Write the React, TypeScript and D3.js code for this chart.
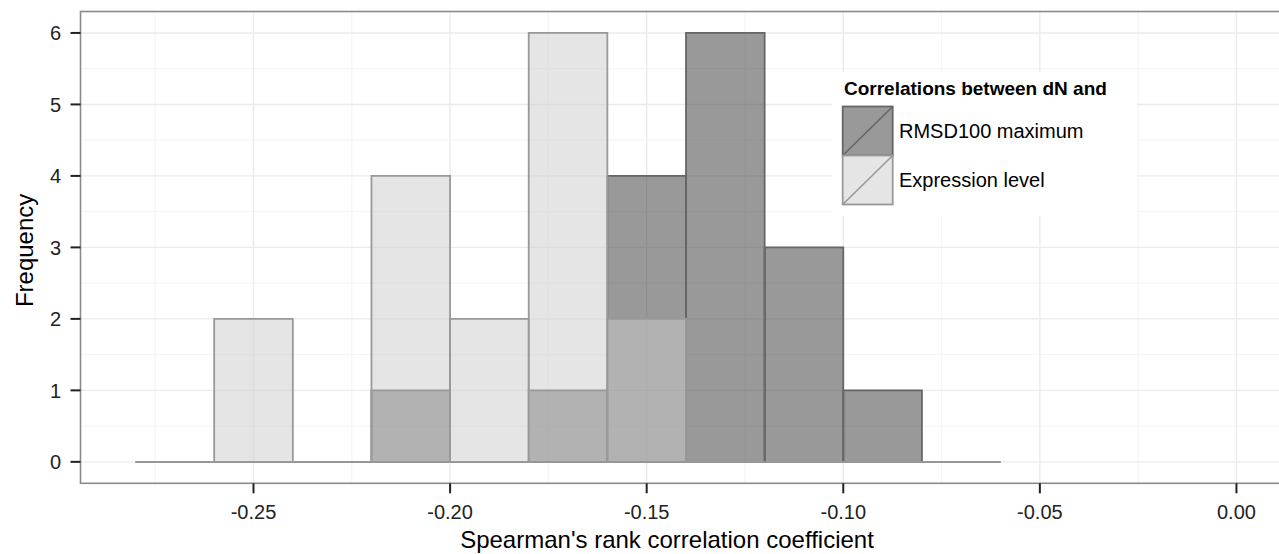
import React from "react";
import * as d3 from "d3";

const binStarts = [-0.28, -0.26, -0.24, -0.22, -0.2, -0.18, -0.16, -0.14, -0.12, -0.1, -0.08];
const binWidth = 0.02;
const rmsdCounts = [0, 0, 0, 1, 0, 1, 4, 6, 3, 1, 0];
const expressionCounts = [0, 2, 0, 4, 2, 6, 2, 0, 0, 0, 0];
const seriesNames = ["RMSD100 maximum", "Expression level"];
const xTicks = [-0.25, -0.2, -0.15, -0.1, -0.05, 0.0];
const xMinor = [-0.275, -0.225, -0.175, -0.125, -0.075, -0.025];
const yTicks = [0, 1, 2, 3, 4, 5, 6];
const yMinor = [0.5, 1.5, 2.5, 3.5, 4.5, 5.5];

const W = 1279;
const H = 554;
const FONT = "'Liberation Sans', Arial, Helvetica, sans-serif";

export default function App() {
  const x = d3.scaleLinear().domain([-0.294, 0.014]).range([80.5, 1291.5]);
  const y = d3.scaleLinear().domain([-0.3, 6.3]).range([483.3, 11.5]);
  const top = y.range()[1];
  const bottom = y.range()[0];
  const left = x.range()[0];
  const right = x.range()[1];

  const series = [
    { name: seriesNames[0], counts: rmsdCounts, fill: "#333333", stroke: "#666666", keyFill: "#999999" },
    { name: seriesNames[1], counts: expressionCounts, fill: "#cccccc", stroke: "#999999", keyFill: "#e5e5e5" },
  ];

  const barPath = (x0: number, c: number) => {
    const p = d3.path();
    const px0 = x(x0);
    const px1 = x(x0 + binWidth);
    p.rect(px0, y(c), px1 - px0, y(0) - y(c));
    return p.toString();
  };

  const fmt = (v: number) => d3.format(".2f")(v).replace("\u2212", "-");

  const legX = 842.7;
  const keyW = 50;
  const keyH = 49;
  const keyTop = 106.5;

  return (
    <svg
      width={W}
      height={H}
      style={{ position: "absolute", left: 0, top: 0, background: "#fff" }}
      fontFamily={FONT}
    >
      <rect x={0} y={0} width={W} height={H} fill="#ffffff" />
      <rect x={left} y={top} width={right - left} height={bottom - top} fill="#ffffff" />
      {xMinor.map((v) => (
        <line key={"xm" + v} x1={x(v)} x2={x(v)} y1={top} y2={bottom} stroke="#f5f5f5" strokeWidth={1.2} />
      ))}
      {yMinor.map((v) => (
        <line key={"ym" + v} x1={left} x2={right} y1={y(v)} y2={y(v)} stroke="#f5f5f5" strokeWidth={1.2} />
      ))}
      {xTicks.map((v) => (
        <line key={"xg" + v} x1={x(v)} x2={x(v)} y1={top} y2={bottom} stroke="#ebebeb" strokeWidth={1.4} />
      ))}
      {yTicks.map((v) => (
        <line key={"yg" + v} x1={left} x2={right} y1={y(v)} y2={y(v)} stroke="#ebebeb" strokeWidth={1.4} />
      ))}
      {series.map((s) => (
        <g key={s.name}>
          {binStarts.map((b, i) => (
            <path
              key={i}
              d={barPath(b, s.counts[i])}
              fill={s.fill}
              fillOpacity={0.5}
              stroke={s.stroke}
              strokeWidth={1.8}
            />
          ))}
        </g>
      ))}
      <rect x={left} y={top} width={right - left} height={bottom - top} fill="none" stroke="#8a8a8a" strokeWidth={1.6} />
      {yTicks.map((v) => (
        <g key={"yt" + v}>
          <line x1={left - 10} x2={left} y1={y(v)} y2={y(v)} stroke="#222" strokeWidth={2} />
          <text x={61} y={y(v)} dy="0.36em" textAnchor="end" fontSize={20} fill="#222">
            {v}
          </text>
        </g>
      ))}
      {xTicks.map((v) => (
        <g key={"xt" + v}>
          <line x1={x(v)} x2={x(v)} y1={bottom} y2={bottom + 10} stroke="#222" strokeWidth={2} />
          <text x={x(v)} y={518.5} textAnchor="middle" fontSize={20} fill="#222">
            {fmt(v)}
          </text>
        </g>
      ))}
      <text x={667} y={548} textAnchor="middle" fontSize={24} fill="#000">
        Spearman's rank correlation coefficient
      </text>
      <text
        transform={`translate(33, ${(top + bottom) / 2 + 3}) rotate(-90)`}
        textAnchor="middle"
        fontSize={24}
        fill="#000"
      >
        Frequency
      </text>
      <rect x={832} y={72} width={305} height={144} fill="#ffffff" />
      <text x={844} y={95} fontSize={19} fontWeight="bold" fill="#000">
        Correlations between dN and
      </text>
      {series.map((s, i) => {
        const ky = keyTop + i * keyH;
        return (
          <g key={"leg" + i}>
            <rect x={legX} y={ky} width={keyW} height={keyH} fill={s.keyFill} stroke={s.stroke} strokeWidth={1.8} />
            <line x1={legX} y1={ky + keyH} x2={legX + keyW} y2={ky} stroke={s.stroke} strokeWidth={1.6} />
            <text x={899} y={ky + keyH / 2} dy="0.36em" fontSize={20} fill="#000">
              {s.name}
            </text>
          </g>
        );
      })}
    </svg>
  );
}
